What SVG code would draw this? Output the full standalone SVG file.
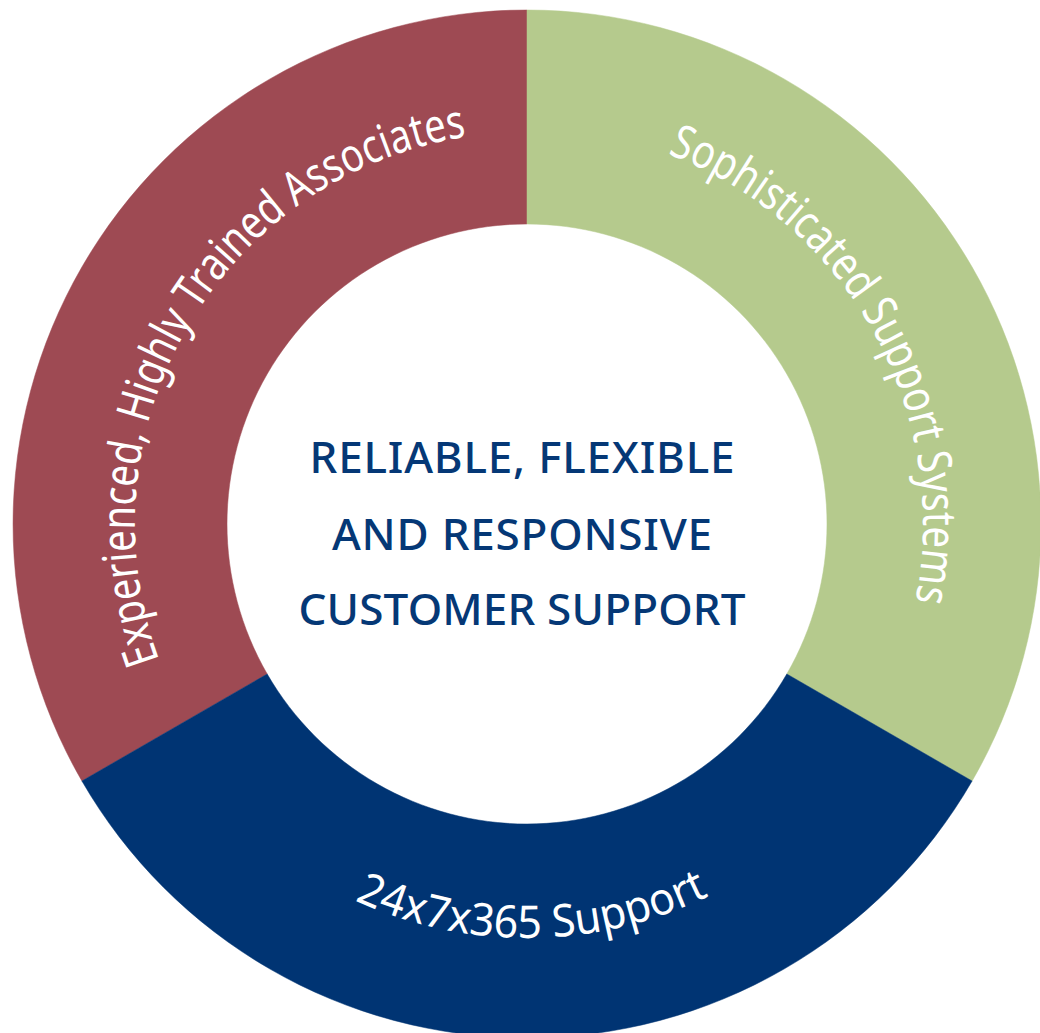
<svg xmlns="http://www.w3.org/2000/svg" width="1040" height="1033" viewBox="0 0 1040 1033">
<style>
.arc{font-family:"Noto Sans","Open Sans","Liberation Sans",sans-serif;font-size:47px;fill:#ffffff}
.ctr{font-family:"Noto Sans","Open Sans","Liberation Sans",sans-serif;font-size:44px;font-weight:500;fill:#053876;text-anchor:middle}
</style>
<defs>
<path id="pRed" d="M159.3,660 A392,392 0 0 1 467,136.6"/>
<path id="pGreen" d="M667.6,153.8 A396,396 0 0 1 915.3,601.6"/>
<path id="pBlue" d="M354.7,900.4 A414,414 0 0 0 708.5,896.1"/>
</defs>
<rect width="1040" height="1033" fill="#ffffff"/>
<g id="seg-red">
<path d="M81.9,781 A514,514 0 0 1 527,10 L527,224 A300,300 0 0 0 267.2,674 Z" fill="#9E4A53" stroke="#9E4A53" stroke-width="0.5"/>
<text class="arc"><textPath href="#pRed" textLength="694" lengthAdjust="spacingAndGlyphs">Experienced, Highly Trained Associates</textPath></text>
</g>
<g id="seg-green">
<path d="M527,10 A514,514 0 0 1 972.1,781 L786.8,674 A300,300 0 0 0 527,224 Z" fill="#B5CA8D" stroke="#B5CA8D" stroke-width="0.5"/>
<text class="arc"><textPath href="#pGreen" textLength="556" lengthAdjust="spacingAndGlyphs">Sophisticated Support Systems</textPath></text>
</g>
<g id="seg-blue">
<path d="M972.1,781 A514,514 0 0 1 81.9,781 L267.2,674 A300,300 0 0 0 786.8,674 Z" fill="#003473" stroke="#003473" stroke-width="0.5"/>
<text class="arc" style="font-size:45px"><textPath href="#pBlue" textLength="366" lengthAdjust="spacingAndGlyphs">24x7x365 Support</textPath></text>
</g>
<g id="center">
<text class="ctr" x="522" y="473" textLength="425" lengthAdjust="spacing">RELIABLE, FLEXIBLE</text>
<text class="ctr" x="522" y="550" textLength="380" lengthAdjust="spacing">AND RESPONSIVE</text>
<text class="ctr" x="522" y="625" textLength="447" lengthAdjust="spacing">CUSTOMER SUPPORT</text>
</g>
<g id="connectors"></g>
</svg>
